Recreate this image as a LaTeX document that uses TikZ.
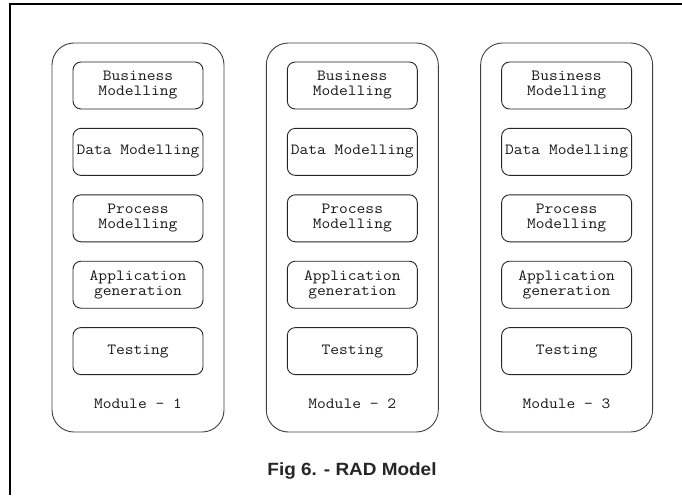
\documentclass[tikz,border=0pt]{standalone}
\usepackage{fontspec}
\newfontfamily\stagefont[FakeStretch=1.1]{Latin Modern Mono}
\newfontfamily\capfont[FakeStretch=1.07]{Liberation Sans}
\begin{document}
\begin{tikzpicture}[x=1pt,y=-1pt,
  modulebox/.style={draw=black!75, line width=0.9pt, rounded corners=22pt,
    minimum width=172pt, minimum height=389pt, inner sep=0pt},
  stagebox/.style={draw=black!85, line width=0.9pt, rounded corners=8pt,
    minimum width=130pt, minimum height=47pt, inner sep=0pt, align=center,
    text=black!90, font=\stagefont\fontsize{15.5}{15}\selectfont},
  modlabel/.style={anchor=base, inner sep=0pt, text=black!90,
    font=\stagefont\fontsize{15.5}{15}\selectfont},
  caption/.style={anchor=base, inner sep=0pt, text=black!85,
    font=\capfont\bfseries\fontsize{17.7}{20}\selectfont}]
  \useasboundingbox[fill=white] (0,0) rectangle (682,495);
  % page frame, open to the right and bottom
  \draw[line width=1.2pt] (10,495) -- (10,4) -- (682,4);
  \foreach \i in {1,2,3} {
    \pgfmathsetmacro{\cx}{138+214.3*(\i-1)}
    \node[modulebox] (mod\i) at (\cx,237.5) {};
    \node[stagebox] (bm\i) at (\cx,85.5)  {Business\\Modelling};
    \node[stagebox] (dm\i) at (\cx,151.9) {Data Modelling};
    \node[stagebox] (pm\i) at (\cx,218.3) {Process\\Modelling};
    \node[stagebox] (ag\i) at (\cx,284.7) {Application\\generation};
    \node[stagebox] (ts\i) at (\cx,351.1) {Testing};
    \node[modlabel] (lb\i) at (\cx,408) {Module - \i};
  }
  \node[caption] (cap) at (352,475) {Fig 6. - RAD Model};
\end{tikzpicture}
\end{document}
